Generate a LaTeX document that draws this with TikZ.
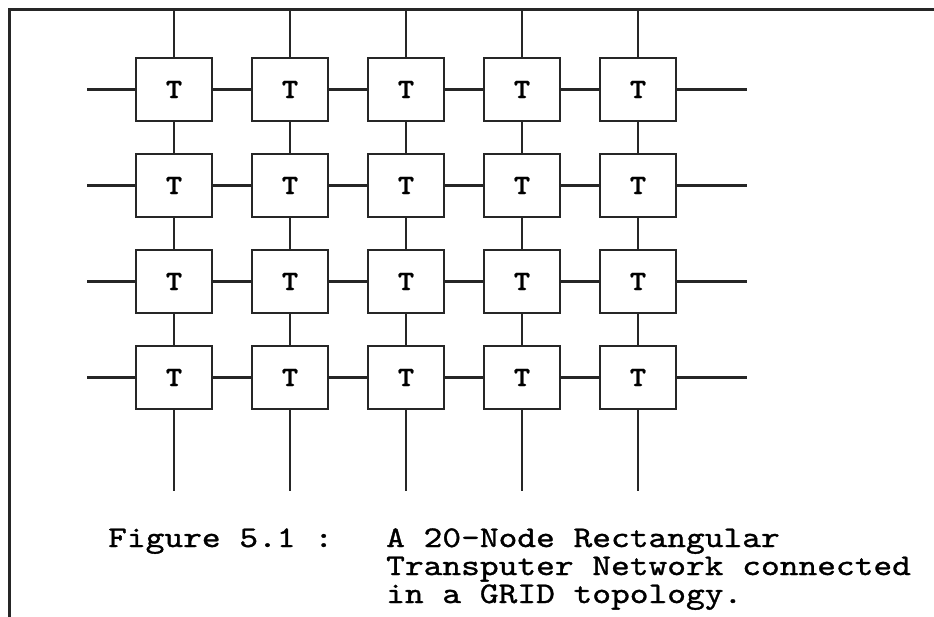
\documentclass[tikz,border=0pt]{standalone}
\usepackage{fontspec}
\newfontfamily\captt{lmmono10-regular}[Extension=.otf, FakeStretch=1.19, FakeBold=1.1]
\newfontfamily\boxtt{lmmonolt10-bold}[Extension=.otf, FakeStretch=1.1, FakeBold=0.8]
\begin{document}
\begin{tikzpicture}[x=1pt,y=-1pt,
  tbox/.style={draw=black!85, line width=2.4pt, minimum width=76pt, minimum height=63pt, inner sep=0pt,
    font=\boxtt\fontsize{28}{28}\selectfont},
  link/.style={draw=black!85, line width=2.4pt},
  frameline/.style={draw=black!85, line width=3pt},
  captext/.style={inner sep=0pt, anchor=base west,
    font=\captt\fontsize{30}{30}\selectfont}]
\useasboundingbox (0,0) rectangle (934,617);
% frame
\draw[frameline] (9,617) -- (9,10) -- (934,10);
% nodes
\foreach \cx [count=\i] in {174,290,406,522,638}{
  \foreach \ry [count=\j] in {89.5,185.5,281.5,377.5}{
    \node[tbox] (t\j\i) at (\cx,\ry) {T};
  }
  \coordinate (top\i) at (\cx,10);
  \coordinate (bot\i) at (\cx,491);
}
\foreach \ry [count=\j] in {89.5,185.5,281.5,377.5}{
  \coordinate (lft\j) at (87,\ry);
  \coordinate (rgt\j) at (747,\ry);
}
% vertical connectors
\foreach \i in {1,...,5}{
  \draw[link] (top\i) -- (t1\i.north);
  \draw[link] (t1\i) -- (t2\i);
  \draw[link] (t2\i) -- (t3\i);
  \draw[link] (t3\i) -- (t4\i);
  \draw[link] (t4\i.south) -- (bot\i);
}
% horizontal connectors
\foreach \j in {1,...,4}{
  \draw[link] (lft\j) -- (t\j1.west);
  \draw[link] (t\j1) -- (t\j2);
  \draw[link] (t\j2) -- (t\j3);
  \draw[link] (t\j3) -- (t\j4);
  \draw[link] (t\j4) -- (t\j5);
  \draw[link] (t\j5.east) -- (rgt\j);
}
% caption
\node[captext] (figlab) at (108,547) {Figure 5.1 :};
\node[captext] (cap1) at (386,547) {A 20-Node Rectangular};
\node[captext] (cap2) at (386,575) {Transputer Network connected};
\node[captext] (cap3) at (386,603) {in a GRID topology.};
\end{tikzpicture}
\end{document}
